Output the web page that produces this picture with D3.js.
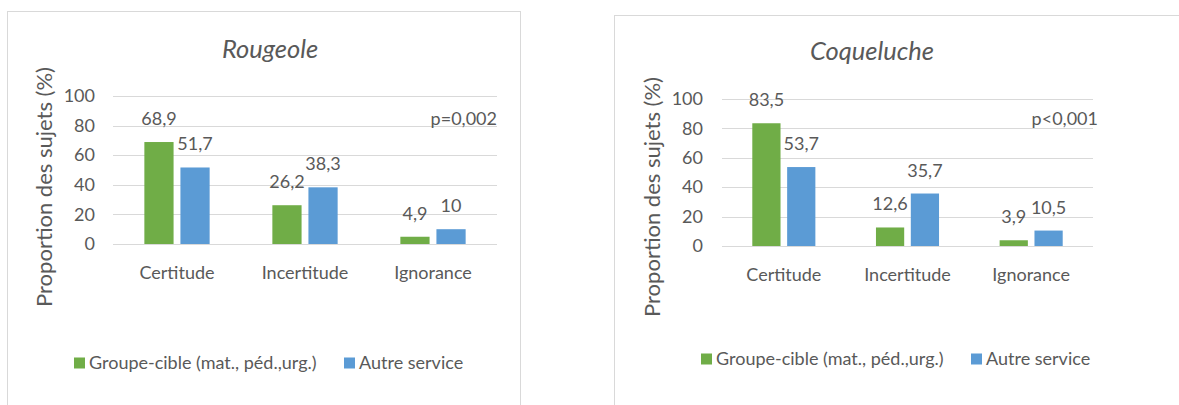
<!DOCTYPE html>
<html><head><meta charset="utf-8">
<script src="https://cdn.jsdelivr.net/npm/d3@7"></script>
<style>
body{margin:0;background:#fff;}
svg{display:block;font-family:Lato,sans-serif;}
</style></head>
<body>
<svg id="c" width="1179" height="405"></svg>
<script>
const categories = ["Certitude", "Incertitude", "Ignorance"];
const seriesNames = ["Groupe-cible (mat., péd.,urg.)", "Autre service"];
const rougeoleGroupe = [68.9, 26.2, 4.9];
const rougeoleAutre = [51.7, 38.3, 10];
const coquelucheGroupe = [83.5, 12.6, 3.9];
const coquelucheAutre = [53.7, 35.7, 10.5];
const yTicks = [0, 20, 40, 60, 80, 100];
const titles = ["Rougeole", "Coqueluche"];
const pValues = ["p=0,002", "p<0,001"];
const colors = ["#70AD47", "#5B9BD5"];

const svg = d3.select("#c");
const txt = "#595959";
const fs = "18px";
const fmt = v => String(v).replace(".", ",");

const layouts = [
  {box:[7,11,513,420], x0:113, x1:497, y0:244, y1:96, tickX:95, titleX:270, titleY:58, yTitleX:52, yTitleY:187,
   catY:279, pX:497, pY:125, legY:363, leg:[74,344]},
  {box:[614,15,600,420], x0:722, x1:1093, y0:246, y1:99, tickX:703, titleX:872, titleY:60, yTitleX:660, yTitleY:197,
   catY:281, pX:1098, pY:125, legY:359, leg:[701,971]}
];
const datasets = [[rougeoleGroupe, rougeoleAutre], [coquelucheGroupe, coquelucheAutre]];

layouts.forEach((L, i) => {
  const g = svg.append("g");
  g.append("rect").attr("x", L.box[0]+0.5).attr("y", L.box[1]+0.5).attr("width", L.box[2]).attr("height", L.box[3])
    .attr("fill", "#fff").attr("stroke", "#d9d9d9").attr("stroke-width", 1);

  const y = d3.scaleLinear().domain([0, 100]).range([L.y0, L.y1]);
  const x = d3.scaleBand().domain(categories).range([L.x0, L.x1]).padding(0);
  const groupW = x.bandwidth() * 0.51;
  const xs = d3.scaleBand().domain([0, 1]).range([-groupW/2, groupW/2]).paddingInner(0.19).paddingOuter(0);

  g.append("g").selectAll("line").data(yTicks).join("line")
    .attr("x1", L.x0).attr("x2", L.x1)
    .attr("y1", d => Math.round(y(d)) + 0.5).attr("y2", d => Math.round(y(d)) + 0.5)
    .attr("stroke", "#d9d9d9").attr("stroke-width", 1);

  const ya = d3.axisLeft(y).tickValues(yTicks).tickSize(0).tickPadding(0);
  const yg = g.append("g").attr("transform", `translate(${L.tickX},0)`).call(ya);
  yg.select(".domain").remove();
  yg.selectAll("text").attr("fill", txt).style("font-size", fs).style("font-family", "Lato");

  const xa = d3.axisBottom(x).tickSize(0).tickPadding(0);
  const xg = g.append("g").attr("transform", `translate(0,${L.catY})`).call(xa);
  xg.select(".domain").remove();
  xg.selectAll("text").attr("fill", txt).attr("dy", 0).attr("y", 0).style("font-size", fs).style("font-family", "Lato");

  const data = datasets[i];
  data.forEach((vals, s) => {
    g.append("g").selectAll("rect").data(vals).join("rect")
      .attr("x", (d, k) => x(categories[k]) + x.bandwidth()/2 + xs(s))
      .attr("width", xs.bandwidth())
      .attr("y", d => y(d))
      .attr("height", d => y(0) - y(d))
      .attr("fill", colors[s]);
    g.append("g").selectAll("text").data(vals).join("text")
      .attr("x", (d, k) => x(categories[k]) + x.bandwidth()/2 + xs(s) + xs.bandwidth()/2)
      .attr("y", d => y(d) - 17)
      .attr("text-anchor", "middle").attr("fill", txt).style("font-size", fs)
      .text(d => fmt(d));
  });

  g.append("text").attr("x", L.titleX).attr("y", L.titleY).attr("text-anchor", "middle")
    .attr("fill", txt).style("font-size", "25.5px").style("font-style", "italic").text(titles[i]);
  g.append("text").attr("transform", `translate(${L.yTitleX},${L.yTitleY}) rotate(-90)`)
    .attr("text-anchor", "middle").attr("fill", txt).style("font-size", "22px").text("Proportion des sujets (%)");
  g.append("text").attr("x", L.pX).attr("y", L.pY).attr("text-anchor", "end")
    .attr("fill", txt).style("font-size", fs).text(pValues[i]);
  seriesNames.forEach((n, s) => {
    g.append("rect").attr("x", L.leg[s]).attr("y", L.legY - 5.5).attr("width", 11).attr("height", 11).attr("fill", colors[s]);
    g.append("text").attr("x", L.leg[s] + 15).attr("y", L.legY + 6).attr("fill", txt).style("font-size", fs).text(n);
  });
});
</script>
</body></html>
